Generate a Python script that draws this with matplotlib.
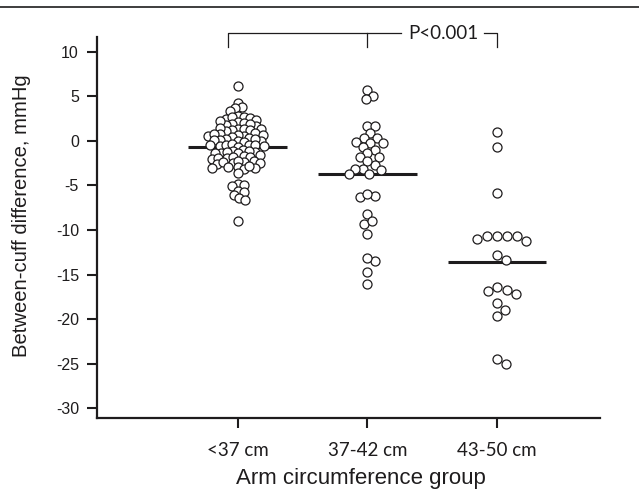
import numpy as np
import matplotlib
matplotlib.use('Agg')
import matplotlib.pyplot as plt
from matplotlib.lines import Line2D

# data
groups = ['<37 cm', '37-42 cm', '43-50 cm']
diff_lt37 = [6.2, 4.3, 3.8, 3.7, 3.4,
             2.8, 2.7, 2.5, 2.6, 2.4, 2.7,
             2.1, 1.9, 1.8, 2.0, 1.7, 1.9, 2.2,
             1.4, 1.2, 1.3, 1.1, 1.5, 1.3, 1.2,
             0.8, 0.6, 0.7, 0.9, 0.5, 0.7, 0.6, 0.8,
             0.2, 0.0, 0.1, 0.3, -0.1, 0.1, 0.0, 0.2,
             -0.4, -0.6, -0.5, -0.3, -0.7, -0.5, -0.4, -0.6,
             -1.1, -1.3, -1.2, -1.0, -1.4, -1.2, -1.1, -1.3,
             -1.7, -1.9, -1.8, -2.0, -1.6, -1.8, -1.9,
             -2.3, -2.5, -2.4, -2.6, -2.2, -2.4, -2.5,
             -2.9, -3.0, -3.1, -2.8, -3.0, -2.9,
             -3.6,
             -4.8, -4.9, -5.1, -5.6, -5.7, -6.1, -6.4, -6.6,
             -9.0]
diff_37_42 = [5.7, 5.05, 4.7, 1.7, 1.7, 0.85, 0.3, 0.3, -0.26, -0.26, -0.07,
              -1.0, -0.64, -1.4, -1.8, -1.8, -2.7, -2.3, -3.1, -3.1, -3.3,
              -3.7, -3.7, -6.3, -6.15, -5.9, -8.2, -9.3, -8.95, -10.45,
              -13.45, -13.2, -14.7, -16.1]
diff_43_50 = [1.05, -0.7, -5.8, -11.2, -11.0, -10.7, -10.7, -10.7, -10.7,
              -13.4, -12.8, -17.2, -16.4, -16.9, -16.7, -18.2, -19.0, -19.7,
              -25.0, -24.5]
group_means = [-0.64, -3.75, -13.6]
yticks = [10, 5, 0, -5, -10, -15, -20, -25, -30]

dark = '#1e1c1d'

fig = plt.figure(figsize=(6.39, 4.93), dpi=100)
ax = fig.add_axes([0.1518, 0.1521, 0.787, 0.773])
ax.set_xlim(-0.085, 3.792)
ax.set_ylim(-31.12, 11.69)


def swarm_x(values, center, min_dist=8.0):
    # simple beeswarm in pixel space, closest free spot to the centre
    vals = np.asarray(values, dtype=float)
    ys = ax.transData.transform(np.column_stack([np.full(len(vals), center), vals]))[:, 1]
    px_x = ax.transData.transform((1, 0))[0] - ax.transData.transform((0, 0))[0]
    cands = [0.0] + [s * k * 0.5 for k in range(1, 400) for s in (1, -1)]
    placed = []
    offs = np.zeros(len(vals))
    for i in np.argsort(-vals, kind='stable'):
        for c in cands:
            if all((c - px) ** 2 + (ys[i] - py) ** 2 >= min_dist ** 2 for px, py in placed):
                break
        placed.append((c, ys[i]))
        offs[i] = c
    return center + offs / px_x


spacing = [5.8, 8.0, 10.0]
for pos, vals, m, d in zip([1, 2, 3], [diff_lt37, diff_37_42, diff_43_50], group_means, spacing):
    ax.hlines(m, pos - 0.38, pos + 0.38, color=dark, lw=2.2, zorder=2)
    ax.plot(swarm_x(vals, pos, d), vals, 'o', ls='none', ms=6.5, mfc='white',
            mec=dark, mew=0.9, zorder=3)

# significance bracket
yb, yl = 12.13, 10.56
kw = dict(color=dark, lw=0.9, clip_on=False)
ax.plot([0.923, 0.923, 2.262], [yl, yb, yb], **kw)
ax.plot([2.0, 2.0], [yb, yl], **kw)
ax.plot([2.9, 3.0, 3.0], [yb, yb, yl], **kw)
ax.text(2.585, yb, 'P<0.001', ha='center', va='center', fontsize=13.5,
        family='Lato', color=dark, clip_on=False)

ax.set_xticks([1, 2, 3])
ax.set_xticklabels(groups, family='Lato', fontsize=13.5)
ax.set_yticks(yticks)
ax.set_yticklabels([str(t) for t in yticks], family='Liberation Sans', fontsize=11.5)
ax.tick_params(direction='out', length=7, width=1.5, color=dark, labelcolor=dark)
ax.tick_params(axis='x', pad=10)
ax.tick_params(axis='y', pad=6)
for s in ['top', 'right']:
    ax.spines[s].set_visible(False)
for s in ['left', 'bottom']:
    ax.spines[s].set_linewidth(1.6)
    ax.spines[s].set_color(dark)

ax.set_xlabel('Arm circumference group', family='Liberation Sans', fontsize=16,
              color=dark, labelpad=7)
ax.xaxis.label.set_x(0.525)
ax.set_ylabel('Between-cuff difference, mmHg', family='Liberation Sans',
              fontsize=14.6, color=dark, labelpad=18)
ax.yaxis.label.set_y(0.53)

# rule across the top of the figure
fig.add_artist(Line2D([0, 1], [1 - 6.5 / 493, 1 - 6.5 / 493], color=dark, lw=1.2))

fig.savefig('out.png', dpi=100)
